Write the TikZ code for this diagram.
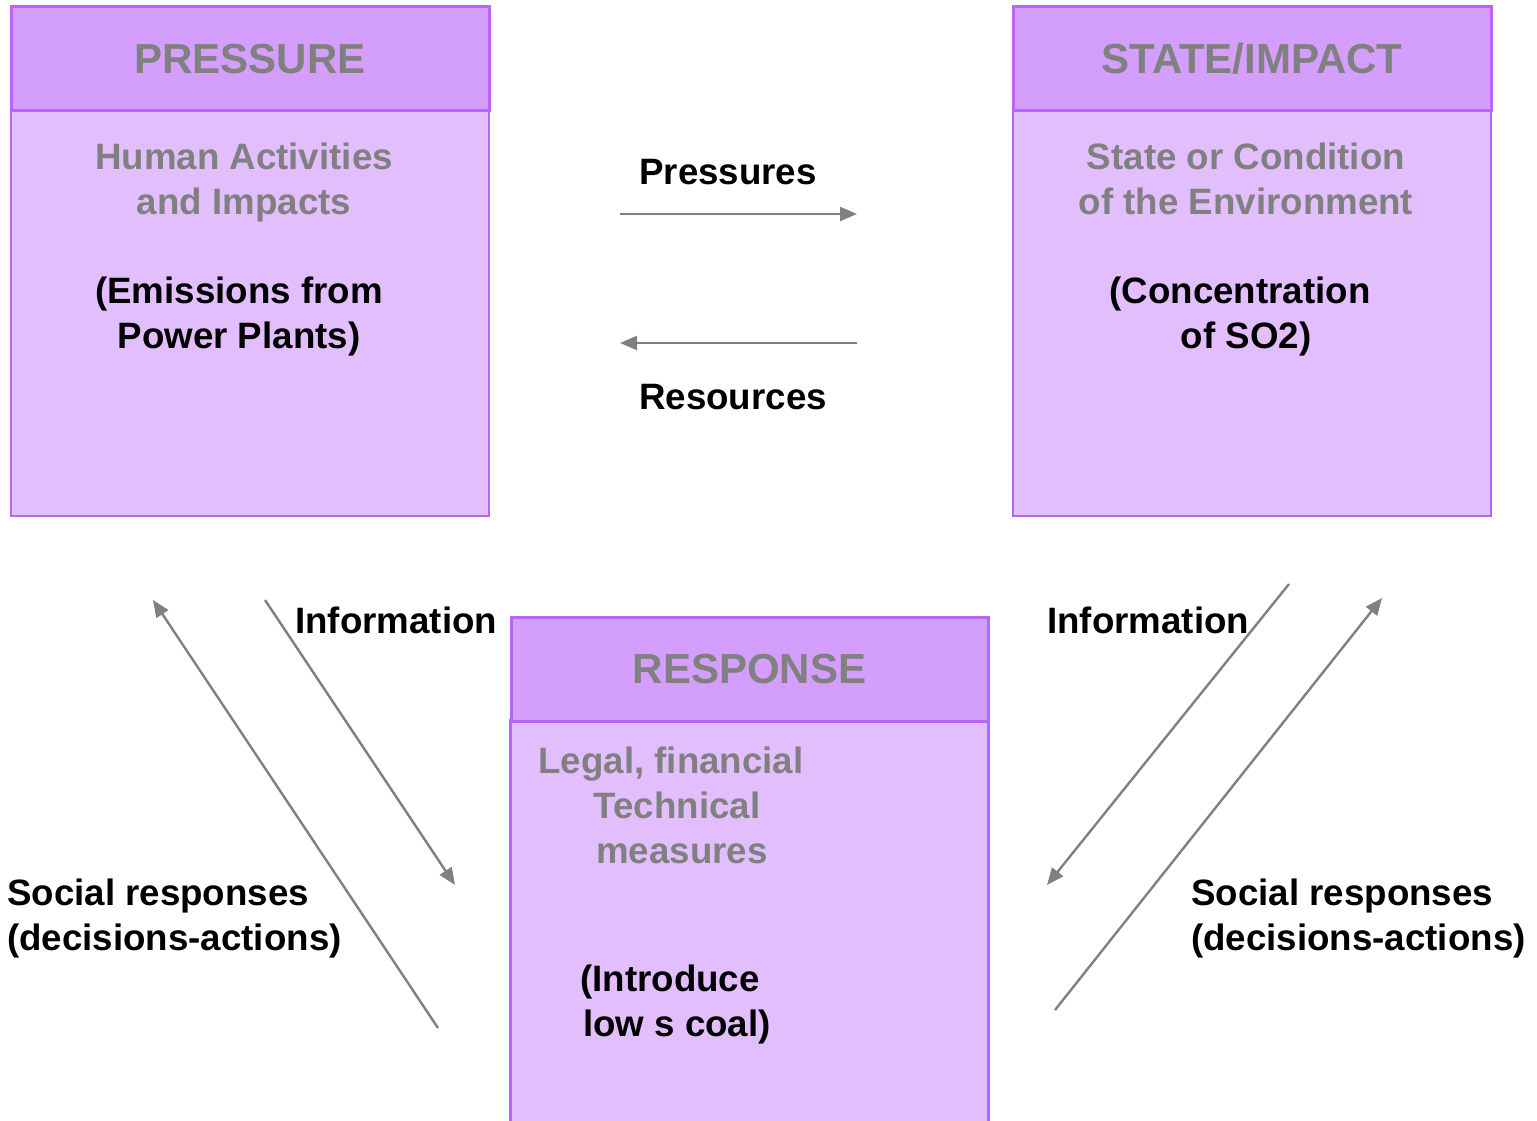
\documentclass[tikz,border=0pt]{standalone}
\usepackage{fontspec}
\setmainfont{Liberation Sans}
\usetikzlibrary{arrows.meta}
\definecolor{hdr}{HTML}{D49EFC}
\definecolor{bdy}{HTML}{E2BEFD}
\definecolor{edgec}{HTML}{B866F8}
\definecolor{txtgray}{HTML}{808080}
\definecolor{arrc}{HTML}{808080}
\begin{document}
\begin{tikzpicture}[x=1pt,y=-1pt,
  hdrbox/.style={draw=edgec, line width=3pt, fill=hdr, rectangle, minimum width=478pt, minimum height=104pt, inner sep=0pt, font=\fontsize{42}{48}\selectfont\bfseries, text=txtgray},
  bodybox/.style={draw=edgec, line width=2.5pt, fill=bdy, rectangle, minimum width=478pt, inner sep=0pt},
  graytxt/.style={font=\fontsize{36.7}{45}\selectfont\bfseries, text=txtgray, align=center, inner sep=0pt, text height=26pt, text depth=0pt},
  blacktxt/.style={font=\fontsize{36.7}{45}\selectfont\bfseries, text=black, align=center, inner sep=0pt, text height=26pt, text depth=0pt},
  lefttxt/.style={font=\fontsize{36.7}{45}\selectfont\bfseries, text=black, align=left, inner sep=0pt, text height=26pt, text depth=0pt},
  flow/.style={draw=arrc, line width=2.4pt, -{Triangle[length=17pt,width=14pt]}}
]
\useasboundingbox (0,0) rectangle (1537,1121);
% boxes
\node[bodybox, minimum height=406pt] (pbody) at (250,313) {};
\node[hdrbox] (phdr) at (250,59) {PRESSURE};
\node[bodybox, minimum height=406pt] (sbody) at (1252,313) {};
\node[hdrbox] (shdr) at (1252,59) {STATE/IMPACT};
\node[bodybox, minimum height=420pt] (rbody) at (749.5,930) {};
\node[hdrbox, minimum width=477pt] (rhdr) at (749.5,669.5) {RESPONSE};
% box texts
\node[graytxt] (ptxt1) at (244,156) {Human Activities};
\node[graytxt] (ptxt2) at (244,201) {and Impacts};
\node[blacktxt] (pex1) at (239,290) {(Emissions from};
\node[blacktxt] (pex2) at (239,335) {Power Plants)};
\node[graytxt] (stxt1) at (1246,156) {State or Condition};
\node[graytxt] (stxt2) at (1246,201) {of the Environment};
\node[blacktxt] (sex1) at (1240,290) {(Concentration};
\node[blacktxt] (sex2) at (1246,335) {of SO2)};
\node[graytxt] (r1) at (671,760) {Legal, financial};
\node[graytxt] (r2) at (677,805) {Technical};
\node[graytxt] (r3) at (682,850) {measures};
\node[blacktxt] (r4) at (670,978) {(Introduce};
\node[blacktxt] (r5) at (677,1023) {low s coal)};
% horizontal arrows
\node[blacktxt] (lpress) at (728,172) {Pressures};
\node[blacktxt] (lres) at (733,396) {Resources};
\coordinate (a1s) at (620,214);
\coordinate (a1e) at (857,214);
\coordinate (a2s) at (857,343);
\coordinate (a2e) at (620,343);
\draw[flow] (a1s) -- (a1e);
\draw[flow] (a2s) -- (a2e);
% left diagonal arrows
\node[blacktxt, anchor=west] (linfo) at (295,620) {Information};
\node[lefttxt, anchor=west] (lsoc1) at (7,892) {Social responses};
\node[lefttxt, anchor=west] (lsoc2) at (7,937) {(decisions-actions)};
\coordinate (b1s) at (438,1028);
\coordinate (b1e) at (153,600);
\coordinate (b2s) at (265,600);
\coordinate (b2e) at (455,885);
\draw[flow] (b1s) -- (b1e);
\draw[flow] (b2s) -- (b2e);
% right diagonal arrows
\node[blacktxt, anchor=west] (rinfo) at (1047,620) {Information};
\node[lefttxt, anchor=west] (rsoc1) at (1191,892) {Social responses};
\node[lefttxt, anchor=west] (rsoc2) at (1191,937) {(decisions-actions)};
\coordinate (c1s) at (1289,584);
\coordinate (c1e) at (1047,885);
\coordinate (c2s) at (1055,1010);
\coordinate (c2e) at (1382,598);
\draw[flow] (c1s) -- (c1e);
\draw[flow] (c2s) -- (c2e);
\end{tikzpicture}
\end{document}
